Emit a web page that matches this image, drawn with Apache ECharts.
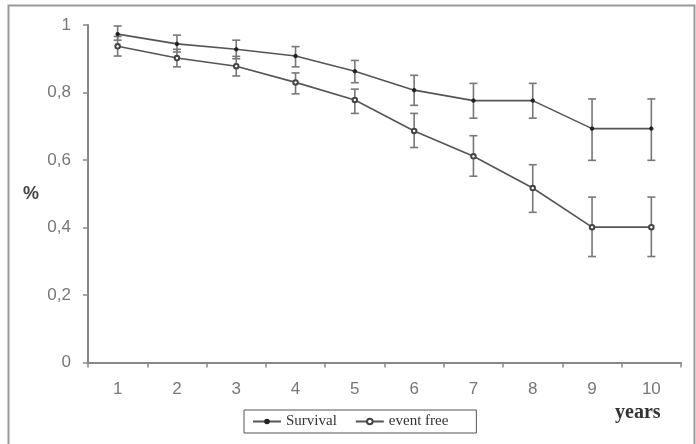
<!DOCTYPE html>
<html><head><meta charset="utf-8">
<script src="https://cdn.jsdelivr.net/npm/echarts@6/dist/echarts.min.js"></script>
<style>html,body{margin:0;padding:0;background:#fff}#c{width:696px;height:444px}</style>
</head><body><div id="c"></div>
<script>
var years = ['1','2','3','4','5','6','7','8','9','10'];
var survival     = [0.973, 0.944, 0.928, 0.908, 0.863, 0.807, 0.776, 0.776, 0.693, 0.693];
var survivalLow  = [0.955, 0.920, 0.900, 0.876, 0.829, 0.762, 0.724, 0.724, 0.599, 0.599];
var survivalHigh = [0.997, 0.970, 0.955, 0.936, 0.895, 0.851, 0.827, 0.827, 0.781, 0.781];
var eventFree     = [0.937, 0.902, 0.878, 0.830, 0.778, 0.686, 0.611, 0.517, 0.401, 0.401];
var eventFreeLow  = [0.908, 0.876, 0.849, 0.796, 0.738, 0.637, 0.552, 0.445, 0.314, 0.314];
var eventFreeHigh = [0.966, 0.928, 0.907, 0.858, 0.810, 0.738, 0.672, 0.586, 0.490, 0.490];
var yTicks = [0, 0.2, 0.4, 0.6, 0.8, 1];

function errData(lo, hi){ return lo.map(function(v,i){ return [i, v, hi[i]]; }); }
function errRender(params, api){
  var x = api.value(0);
  var p1 = api.coord([x, api.value(1)]);
  var p2 = api.coord([x, api.value(2)]);
  var w = 4;
  var st = {stroke:'#777', lineWidth:1.6};
  return {type:'group', children:[
    {type:'line', shape:{x1:p1[0],y1:p1[1],x2:p2[0],y2:p2[1]}, style:st},
    {type:'line', shape:{x1:p1[0]-w,y1:p1[1],x2:p1[0]+w,y2:p1[1]}, style:st},
    {type:'line', shape:{x1:p2[0]-w,y1:p2[1],x2:p2[0]+w,y2:p2[1]}, style:st}
  ]};
}

var chart = echarts.init(document.getElementById('c'), null, {renderer:'canvas'});
chart.setOption({
  animation:false,
  backgroundColor:'#fff',
  graphic:[
    {type:'rect', left:6, top:3, shape:{width:686, height:444}, style:{fill:'none', stroke:'#999', lineWidth:2}, silent:true},
    {type:'text', left:615, top:403, style:{text:'years', font:'bold 20px "Liberation Serif", serif', fill:'#333'}}
  ],
  grid:{left:88, right:15, top:25, bottom:81.5},
  legend:{
    left:244, top:410,
    padding:[4,28,4,8], itemGap:18, itemWidth:28, itemHeight:7,
    borderColor:'#555', borderWidth:1, borderRadius:0,
    textStyle:{fontFamily:'"Liberation Serif", serif', fontSize:15, color:'#333'},
    data:['Survival','event free']
  },
  xAxis:{
    type:'category', data:years, boundaryGap:true,
    axisLine:{lineStyle:{color:'#888', width:2}},
    axisTick:{show:true, length:5, lineStyle:{color:'#888', width:1.5}},
    axisLabel:{color:'#777', fontSize:17, margin:18, fontFamily:'Arial, "Liberation Sans", sans-serif'},
    splitLine:{show:false}
  },
  yAxis:{
    type:'value', min:0, max:1, interval:0.2,
    name:'%', nameLocation:'middle', nameRotate:0, nameGap:49,
    nameTextStyle:{fontWeight:'bold', fontSize:18, color:'#444', fontFamily:'Arial, "Liberation Sans", sans-serif'},
    axisLine:{show:true, lineStyle:{color:'#888', width:2}},
    axisTick:{show:true, length:5, lineStyle:{color:'#888', width:1.5}},
    axisLabel:{color:'#777', fontSize:17, margin:17, fontFamily:'Arial, "Liberation Sans", sans-serif',
      formatter:function(v){ return yTicks.indexOf(Math.round(v*10)/10) >= 0 ? String(Math.round(v*10)/10).replace('.', ',') : ''; }},
    splitLine:{show:false}
  },
  series:[
    {name:'Survival', type:'line', data:survival, symbol:'circle', symbolSize:3.5,
     lineStyle:{color:'#555', width:1.6}, itemStyle:{color:'#222', borderColor:'#222'}, z:3},
    {name:'event free', type:'line', data:eventFree, symbol:'emptyCircle', symbolSize:4.5,
     lineStyle:{color:'#555', width:1.6}, itemStyle:{color:'#444', borderColor:'#444', borderWidth:1}, z:3},
    {name:'survErr', type:'custom', data:errData(survivalLow, survivalHigh), renderItem:errRender, z:2, silent:true},
    {name:'efErr', type:'custom', data:errData(eventFreeLow, eventFreeHigh), renderItem:errRender, z:2, silent:true}
  ]
});
</script></body></html>
